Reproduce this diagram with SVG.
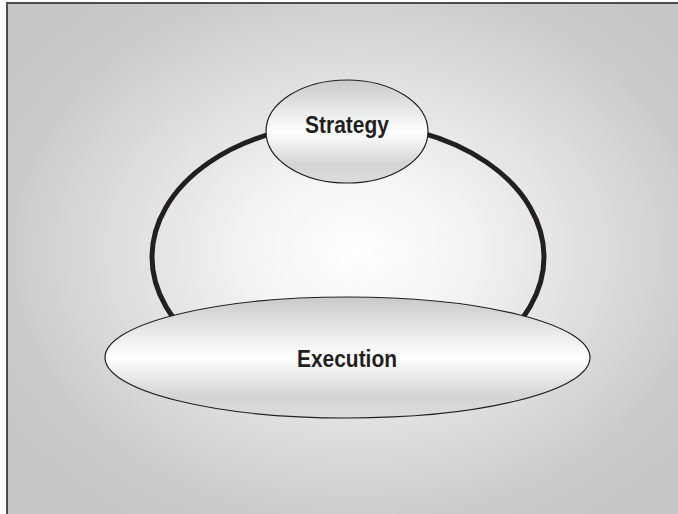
<svg xmlns="http://www.w3.org/2000/svg" width="678" height="514" viewBox="0 0 678 514">
  <defs>
    <radialGradient id="bg" cx="0.5" cy="0.46" r="0.6" fx="0.5" fy="0.46">
      <stop offset="0" stop-color="#ffffff"/>
      <stop offset="0.25" stop-color="#f4f4f5"/>
      <stop offset="0.85" stop-color="#c9cacc"/>
      <stop offset="1" stop-color="#c6c7c9"/>
    </radialGradient>
    <linearGradient id="node" x1="0" y1="0" x2="0" y2="1">
      <stop offset="0" stop-color="#c8c9cb"/>
      <stop offset="0.5" stop-color="#ffffff"/>
      <stop offset="0.82" stop-color="#d3d4d6"/>
      <stop offset="1" stop-color="#dcdddf"/>
    </linearGradient>
  </defs>
  <style>
    .node ellipse { fill: url(#node); stroke: #231f20; stroke-width: 1.2; }
    .label { font-family: "Liberation Sans", Arial, sans-serif; font-weight: bold; fill: #231f20; text-anchor: middle; }
    .loop { fill: none; stroke: #231f20; stroke-width: 5; }
  </style>
  <rect x="0" y="0" width="678" height="514" fill="#ffffff"/>
  <rect x="7" y="3" width="700" height="540" fill="url(#bg)" stroke="#4d4d4f" stroke-width="2"/>
  <g id="connectors">
    <ellipse class="loop" cx="348" cy="257" rx="196" ry="134"/>
  </g>
  <g id="execution" class="node">
    <ellipse cx="347.5" cy="357.5" rx="242.5" ry="60.5"/>
    <text class="label" x="347" y="366.5" font-size="23" textLength="100" lengthAdjust="spacingAndGlyphs">Execution</text>
  </g>
  <g id="strategy" class="node">
    <ellipse cx="347" cy="131.5" rx="81" ry="51.5"/>
    <text class="label" x="347" y="132.5" font-size="24.5" textLength="84" lengthAdjust="spacingAndGlyphs">Strategy</text>
  </g>
</svg>
